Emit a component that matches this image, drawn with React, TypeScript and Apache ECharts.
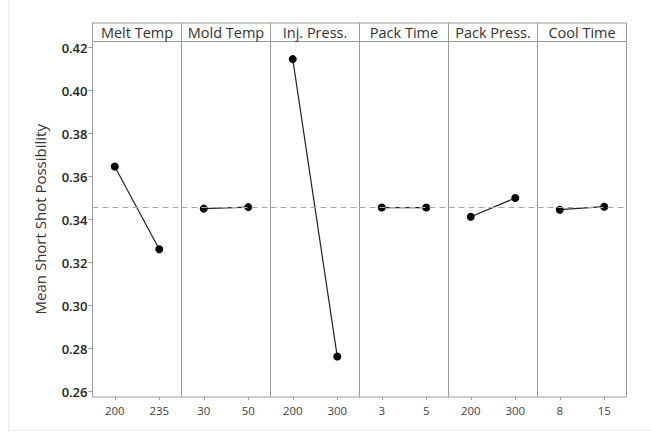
import React, { useEffect, useRef } from "react";
import * as echarts from "echarts";

const factors = ["Melt Temp", "Mold Temp", "Inj. Press.", "Pack Time", "Pack Press.", "Cool Time"];
const levels = [
  ["200", "235"],
  ["30", "50"],
  ["200", "300"],
  ["3", "5"],
  ["200", "300"],
  ["8", "15"],
];
const means = [
  [0.3647, 0.3262],
  [0.3451, 0.3458],
  [0.4146, 0.2763],
  [0.3456, 0.3456],
  [0.3413, 0.3500],
  [0.3446, 0.3460],
];
const overallMean = 0.3455;
const yTicks = [0.26, 0.28, 0.3, 0.32, 0.34, 0.36, 0.38, 0.4, 0.42];
const yMin = 0.2575;
const yMax = 0.4228;
const yTitle = "Mean Short Shot Possibility";

const LEFT = 92.5;
const PW = 89;
const TOP = 41.5;
const BOTTOM = 397;
const HEAD_TOP = 23;

export default function App() {
  const ref = useRef<HTMLDivElement>(null);
  useEffect(() => {
    if (!ref.current) return;
    const chart = echarts.init(ref.current, null, { renderer: "svg" });
    const font = "'Open Sans', 'Noto Sans', sans-serif";
    const grid = factors.map((_, i) => ({
      left: LEFT + i * PW,
      top: TOP,
      width: PW,
      height: BOTTOM - TOP,
      show: true,
      borderColor: "#9a9a9a",
      borderWidth: 1,
      backgroundColor: "transparent",
    }));
    const xAxis = factors.map((_, i) => ({
      type: "category",
      gridIndex: i,
      data: levels[i],
      boundaryGap: true,
      axisLine: { show: false },
      axisTick: { show: true, alignWithLabel: true, length: 3, lineStyle: { color: "#9a9a9a" } },
      axisLabel: { fontSize: 11.5, color: "#444", margin: 7, fontFamily: font },
      splitLine: { show: false },
    }));
    const yAxis = factors.map((_, i) => ({
      type: "value",
      gridIndex: i,
      min: yMin,
      max: yMax,
      show: i === 0,
      name: i === 0 ? yTitle : "",
      nameLocation: "middle",
      nameGap: 45,
      nameTextStyle: { fontSize: 15, color: "#333", fontFamily: font },
      axisLine: { show: false },
      axisTick: {
        show: true,
        length: 4,
        customValues: yTicks,
        lineStyle: { color: "#9a9a9a" },
      },
      axisLabel: {
        customValues: yTicks,
        formatter: (v: number) => v.toFixed(2),
        fontSize: 13,
        fontWeight: 600,
        color: "#222",
        margin: 5,
        fontFamily: font,
      },
      splitLine: { show: false },
    }));
    const series = factors.map((f, i) => ({
      type: "line",
      name: f,
      xAxisIndex: i,
      yAxisIndex: i,
      data: means[i],
      symbol: "circle",
      symbolSize: 8,
      itemStyle: { color: "#000" },
      lineStyle: { color: "#222", width: 1.2 },
      markLine: {
        silent: true,
        symbol: "none",
        precision: 5,
        label: { show: false },
        lineStyle: { type: [6, 4], color: "#a8a8a8", width: 1 },
        data: [{ yAxis: overallMean }],
      },
    }));
    const graphic: any[] = [
      { type: "line", shape: { x1: 8.5, y1: 0, x2: 8.5, y2: 430 }, style: { stroke: "#ececec", lineWidth: 1 } },
      { type: "line", shape: { x1: 8, y1: 430.5, x2: 651, y2: 430.5 }, style: { stroke: "#ececec", lineWidth: 1 } },
    ];
    factors.forEach((f, i) => {
      graphic.push({
        type: "rect",
        shape: { x: LEFT + i * PW, y: HEAD_TOP, width: PW, height: TOP - HEAD_TOP },
        style: { fill: "#fff", stroke: "#9a9a9a", lineWidth: 1 },
      });
      graphic.push({
        type: "text",
        x: LEFT + i * PW + PW / 2,
        y: (HEAD_TOP + TOP) / 2 + 0.5,
        style: {
          text: f,
          fontSize: 14.5,
          fill: "#333",
          fontFamily: font,
          align: "center",
          verticalAlign: "middle",
        },
      });
    });
    chart.setOption({
      animation: false,
      backgroundColor: "#fff",
      grid,
      xAxis,
      yAxis,
      series,
      graphic,
    });
    return () => chart.dispose();
  }, []);
  return (
    <div
      ref={ref}
      style={{ position: "fixed", left: 0, top: 0, width: 651, height: 432 }}
    />
  );
}
